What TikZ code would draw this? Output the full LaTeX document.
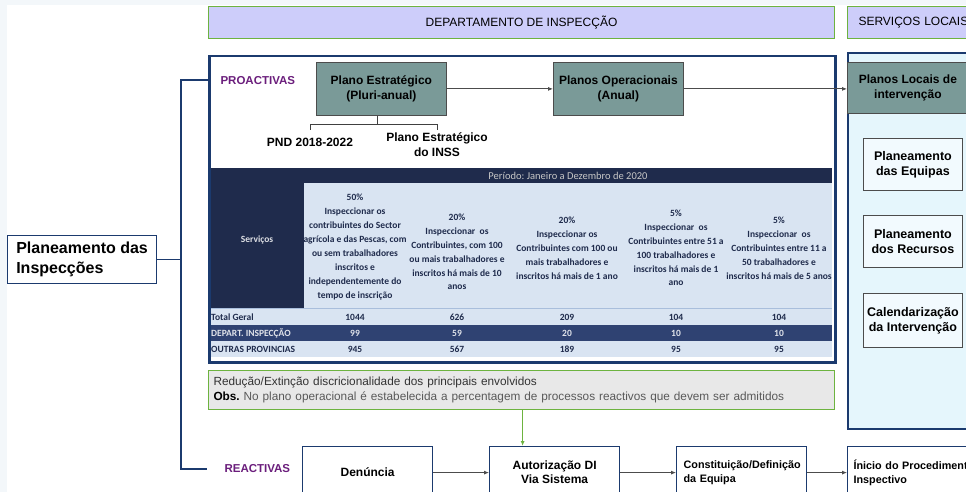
\documentclass[tikz,border=0pt]{standalone}
\usepackage{fontspec}
\setmainfont{Liberation Sans}
\newfontfamily\calfont{Carlito}
\usetikzlibrary{arrows.meta,positioning}
\frenchspacing

\definecolor{navy}{HTML}{1B3A6E}
\definecolor{tabdark}{HTML}{1F2B4C}
\definecolor{tabmid}{HTML}{2F4272}
\definecolor{tablight}{HTML}{D9E4F2}
\definecolor{tabline}{HTML}{A9BEDC}
\definecolor{tealbox}{HTML}{7A9A98}
\definecolor{lavender}{HTML}{CDCDFA}
\definecolor{leaf}{HTML}{6DB33F}
\definecolor{plum}{HTML}{6B1E7C}
\definecolor{skyfill}{HTML}{E5F6FC}
\definecolor{notegray}{HTML}{E8E8E8}
\definecolor{margin}{HTML}{F3F7FA}

\tikzset{
	header/.style={draw=leaf, fill=lavender, line width=1pt, minimum height=32pt, anchor=north west, font=\fontsize{12}{14}\selectfont},
	planbox/.style={draw=black!70, fill=tealbox, line width=0.8pt, minimum width=130pt, minimum height=53pt, anchor=north west, align=center, font=\bfseries\fontsize{12}{15}\selectfont},
	subbox/.style={draw=black!70, fill=skyfill!50!white, line width=0.8pt, minimum width=99pt, minimum height=52pt, anchor=north west, align=center, font=\bfseries\fontsize{12.5}{15}\selectfont},
	flowbox/.style={draw=navy, line width=1.2pt, fill=white, minimum width=130pt, minimum height=52pt, anchor=north west, align=center, font=\bfseries\fontsize{12}{14}\selectfont},
	kind/.style={text=plum, anchor=west, font=\bfseries\fontsize{11.5}{13}\selectfont},
	link/.style={draw=black!70, line width=0.8pt, -{Latex[length=5pt,width=4pt]}},
	tree/.style={draw=black!75, line width=0.8pt},
	trunk/.style={draw=navy, line width=2.5pt},
	cell/.style={font=\calfont\bfseries\fontsize{9.5}{13.9}\selectfont, text=tabdark, align=center, inner sep=0pt},
}

\begin{document}
\begin{tikzpicture}[x=1pt,y=-1pt]
	\useasboundingbox (0,0) rectangle (966,492);
	\fill[margin] (0,0) rectangle (966,492);
	\fill[white] (7,5) rectangle (966,492);

	% headers
	\node[header, minimum width=626pt] (dept) at (208,6) {DEPARTAMENTO DE INSPECÇÃO};
	\node[header, text width=110pt, inner xsep=11pt, align=left] (local) at (847,6) {SERVIÇOS LOCAIS};

	% table
	\fill[tabdark] (210,168) rectangle (832,183);
	\fill[tabdark] (210,183) rectangle (304,308);
	\fill[tablight] (304,183) rectangle (832,308);
	\fill[tablight] (210,309) rectangle (832,325);
	\fill[tabmid] (210,325) rectangle (832,341);
	\fill[tablight] (210,341) rectangle (832,357);
	\draw[tabline, line width=1.5pt] (210,308.5) -- (832,308.5);
	\node[font=\calfont\fontsize{10.5}{12}\selectfont, text=black!22] (period) at (568,176) {Período: Janeiro a Dezembro de 2020};
	\node[cell, text=white!85!tabdark] (serv) at (257,240) {Serviços};
	\foreach \cx/\cy/\txt [count=\i] in {
		355/247/{50\%\\Inspeccionar os\\contribuintes do Sector\\agrícola e das Pescas, com\\ou sem trabalhadores\\inscritos e\\independentemente do\\tempo de inscrição},
		457/252/{20\%\\Inspeccionar\ \ os\\Contribuintes, com 100\\ou mais trabalhadores e\\inscritos há mais de 10\\anos},
		567/248/{20\%\\Inspeccionar os\\Contribuintes com 100 ou\\mais trabalhadores e\\inscritos há mais de 1 ano},
		676/248/{5\%\\Inspeccionar\ \ os\\Contribuintes entre 51 a\\100 trabalhadores e\\inscritos há mais de 1\\ano},
		779/248/{5\%\\Inspeccionar\ \ os\\Contribuintes entre 11 a\\50 trabalhadores e\\inscritos há mais de 5 anos}}
		\node[cell] (goal\i) at (\cx,\cy) {\txt};
	\node[cell, anchor=west] (totlab) at (211,317) {Total Geral};
	\node[cell, anchor=west, text=white!85!tabmid] (deplab) at (211,333) {DEPART. INSPECÇÃO};
	\node[cell, anchor=west] (outlab) at (211,349) {OUTRAS PROVINCIAS};
	\foreach \v/\cx in {1044/355,626/457,209/567,104/676,104/779} \node[cell] (tot\cx) at (\cx,317) {\v};
	\foreach \v/\cx in {99/355,59/457,20/567,10/676,10/779} \node[cell, text=white!85!tabmid] (dep\cx) at (\cx,333) {\v};
	\foreach \v/\cx in {945/355,567/457,189/567,95/676,95/779} \node[cell] (out\cx) at (\cx,349) {\v};

	% proactive frame
	\node[draw=navy, line width=2.5pt, minimum width=626pt, minimum height=306pt, anchor=north west] (proframe) at (208,55) {};
	\node[kind] (pro) at (217,81) {PROACTIVAS};
	\node[planbox] (pe) at (316,62) {Plano Estratégico\\(Pluri-anual)};
	\node[planbox] (po) at (553,62) {Planos Operacionais\\(Anual)};
	\node[font=\bfseries\fontsize{12}{15}\selectfont] (pnd) at (310,142) {PND 2018-2022};
	\node[font=\bfseries\fontsize{12}{15}\selectfont, align=center] (inss) at (437,145) {Plano Estratégico\\do INSS};
	\coordinate (fork) at (377,124);
	\draw[tree] (pe.south -| fork) -- (fork);
	\draw[tree] (pnd.north |- 0,130) -- (pnd.north |- fork) -- (inss.north |- fork) -- (inss.north |- 0,130);

	% local services
	\node[draw=navy, fill=skyfill, line width=2pt, minimum width=130pt, minimum height=376pt, anchor=north west] (locframe) at (847,52) {};
	\node[planbox, minimum width=121pt, minimum height=51pt] (pl) at (847,62) {Planos Locais de\\intervenção};
	\node[subbox] (equipas) at (863,138) {Planeamento\\das Equipas};
	\node[subbox] (recursos) at (863,215) {Planeamento\\dos Recursos};
	\node[subbox, minimum height=54pt] (calend) at (863,293) {Calendarização\\da Intervenção};
	\draw[link] (pe) -- (po);
	\draw[link] (po.east) -- (po.east -| pl.west);

	% note
	\node[draw=leaf, fill=notegray, line width=1pt, minimum height=39pt, text width=616pt, inner xsep=5pt, anchor=north west, align=left, font=\fontsize{11.8}{14.5}\selectfont] (note) at (208,370)
		{\textcolor{black!80}{Redução/Extinção discricionalidade dos principais envolvidos}\\\textbf{Obs.} \textcolor{black!65}{No plano operacional é estabelecida a percentagem de processos reactivos que devem ser admitidos}};

	% reactive flow
	\node[kind] (reac) at (221,469) {REACTIVAS};
	\node[flowbox] (den) at (302,446) {Denúncia};
	\node[flowbox] (auth) at (489,446) {Autorização DI\\Via Sistema};
	\node[flowbox, text width=116pt, inner xsep=7pt, align=left, font=\bfseries\fontsize{10.8}{14}\selectfont] (cons) at (676,446) {Constituição/Definição\\da Equipa};
	\node[flowbox, text width=140pt, inner xsep=6pt, align=left, font=\bfseries\fontsize{10.8}{14}\selectfont] (ini) at (847,446) {Ínicio do Procedimento\\Inspectivo};
	\draw[link] (den) -- (auth);
	\draw[link] (auth) -- (cons);
	\draw[link] (cons) -- (cons.east -| ini.west);
	\coordinate (authin) at ([xshift=-32pt]auth.north);
	\draw[draw=leaf, line width=1pt, -{Latex[length=5pt,width=4pt]}] (note.south -| authin) -- (authin);

	% planning bracket
	\node[draw=navy, line width=1.2pt, minimum width=149pt, minimum height=48pt, anchor=north west, align=left, font=\bfseries\fontsize{16}{20}\selectfont] (insp) at (7,235) {Planeamento das\\Inspecções};
	\coordinate (trunktop) at (181,80);
	\coordinate (trunkbot) at (181,469);
	\coordinate (reacend) at (207,469);
	\draw[trunk] (proframe.west |- trunktop) -- (trunktop) -- (trunkbot) -- (reacend);
	\draw[navy, line width=1.5pt] (insp.east) -- (insp.east -| trunktop);
\end{tikzpicture}
\end{document}
